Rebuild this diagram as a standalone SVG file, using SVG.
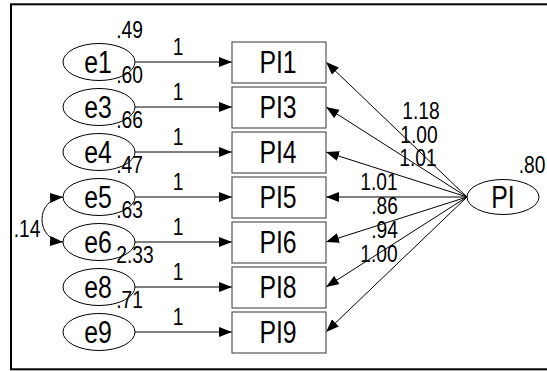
<svg xmlns="http://www.w3.org/2000/svg" width="547" height="371" viewBox="0 0 547 371">
<style>
text{font-family:"Liberation Sans",Arial,sans-serif;fill:#000;text-anchor:middle;transform-box:fill-box;transform-origin:center;transform:scaleX(0.8)}
.big{font-size:31px}
.num{font-size:24px}
.ell{fill:#fff;stroke:#000;stroke-width:1}
.box{fill:#fff;stroke:#555;stroke-width:1.2}
.con{fill:none;stroke:#000;stroke-width:1}
.arr{marker-end:url(#ah)}
</style>
<defs>
<marker id="ah" markerUnits="userSpaceOnUse" markerWidth="13" markerHeight="10" refX="13" refY="5" orient="auto">
<path d="M0,0 L13,5 L0,10 z" fill="#000"/>
</marker>
<marker id="ah2" markerUnits="userSpaceOnUse" markerWidth="13" markerHeight="10" refX="13" refY="5" orient="auto-start-reverse">
<path d="M0,0 L13,5 L0,10 z" fill="#000"/>
</marker>
</defs>
<rect x="11" y="4.3" width="560" height="365" fill="#fff" stroke="#000" stroke-width="2"/>
<g id="connectors">
<line class="con arr" x1="135" y1="62" x2="232" y2="62"/>
<line class="con arr" x1="135" y1="107" x2="232" y2="107"/>
<line class="con arr" x1="135" y1="152" x2="232" y2="152"/>
<line class="con arr" x1="135" y1="197" x2="232" y2="197"/>
<line class="con arr" x1="135" y1="242" x2="232" y2="242"/>
<line class="con arr" x1="135" y1="287" x2="232" y2="287"/>
<line class="con arr" x1="135" y1="332" x2="232" y2="332"/>
<line class="con arr" x1="467" y1="197" x2="326" y2="62"/>
<line class="con arr" x1="467" y1="197" x2="326" y2="107"/>
<line class="con arr" x1="467" y1="197" x2="326" y2="152"/>
<line class="con arr" x1="467" y1="197" x2="326" y2="197"/>
<line class="con arr" x1="467" y1="197" x2="326" y2="242"/>
<line class="con arr" x1="467" y1="197" x2="326" y2="287"/>
<line class="con arr" x1="467" y1="197" x2="326" y2="332"/>
<path class="con" d="M63,197 C35,199 35,240 63,242" marker-start="url(#ah2)" marker-end="url(#ah2)"/>
<text class="num" x="178" y="55">1</text>
<text class="num" x="178" y="100">1</text>
<text class="num" x="178" y="145">1</text>
<text class="num" x="178" y="190">1</text>
<text class="num" x="178" y="235">1</text>
<text class="num" x="178" y="280">1</text>
<text class="num" x="178" y="325">1</text>
<text class="num" x="421" y="119.5">1.18</text>
<text class="num" x="419" y="143">1.00</text>
<text class="num" x="418" y="166.5">1.01</text>
<text class="num" x="379" y="190">1.01</text>
<text class="num" x="384.5" y="214">.86</text>
<text class="num" x="384.5" y="238.5">.94</text>
<text class="num" x="379" y="262.5">1.00</text>
<text class="num" x="27" y="237">.14</text>
</g>
<g id="e1"><ellipse class="ell" cx="99" cy="62" rx="36" ry="18.5"/><text class="big" x="98" y="73.5">e1</text><text class="num" x="129.5" y="38">.49</text></g>
<g id="e3"><ellipse class="ell" cx="99" cy="107" rx="36" ry="18.5"/><text class="big" x="98" y="118.5">e3</text><text class="num" x="129.5" y="83">.60</text></g>
<g id="e4"><ellipse class="ell" cx="99" cy="152" rx="36" ry="18.5"/><text class="big" x="98" y="163.5">e4</text><text class="num" x="129.5" y="128.5">.66</text></g>
<g id="e5"><ellipse class="ell" cx="99" cy="197" rx="36" ry="18.5"/><text class="big" x="98" y="208.5">e5</text><text class="num" x="129.5" y="173">.47</text></g>
<g id="e6"><ellipse class="ell" cx="99" cy="242" rx="36" ry="18.5"/><text class="big" x="98" y="253.5">e6</text><text class="num" x="129.5" y="218">.63</text></g>
<g id="e8"><ellipse class="ell" cx="99" cy="287" rx="36" ry="18.5"/><text class="big" x="98" y="298.5">e8</text><text class="num" x="135" y="263">2.33</text></g>
<g id="e9"><ellipse class="ell" cx="99" cy="332" rx="36" ry="18.5"/><text class="big" x="98" y="343.5">e9</text><text class="num" x="129.5" y="308">.71</text></g>
<g id="PI1"><rect class="box" x="232" y="42" width="94" height="41"/><text class="big" x="278" y="73.5">PI1</text></g>
<g id="PI3"><rect class="box" x="232" y="87" width="94" height="41"/><text class="big" x="278" y="118.5">PI3</text></g>
<g id="PI4"><rect class="box" x="232" y="132" width="94" height="41"/><text class="big" x="278" y="163.5">PI4</text></g>
<g id="PI5"><rect class="box" x="232" y="177" width="94" height="41"/><text class="big" x="278" y="208.5">PI5</text></g>
<g id="PI6"><rect class="box" x="232" y="222" width="94" height="41"/><text class="big" x="278" y="253.5">PI6</text></g>
<g id="PI8"><rect class="box" x="232" y="267" width="94" height="41"/><text class="big" x="278" y="298.5">PI8</text></g>
<g id="PI9"><rect class="box" x="232" y="312" width="94" height="41"/><text class="big" x="278" y="343.5">PI9</text></g>
<g id="PI"><ellipse class="ell" cx="503" cy="197" rx="36" ry="17.5"/><text class="big" x="503" y="208.5">PI</text><text class="num" x="532" y="173">.80</text></g>
</svg>
